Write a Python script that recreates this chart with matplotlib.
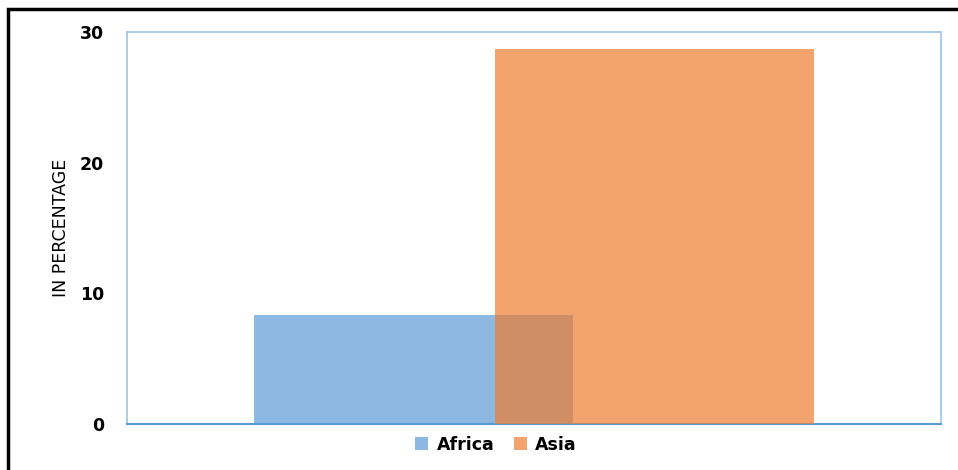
import numpy as np
from matplotlib import pyplot as plt
from matplotlib.patches import Rectangle

## data
regions = ['Africa', 'Asia']
shares = [8.35, 28.7]
yTicks = [0, 10, 20, 30]

colors = ['#5B9BD5', '#ED7D31']
offsets = [-0.295, 0.295]
barWidth = 0.784

## figure
fig = plt.figure(figsize=(9.58, 4.70), dpi=100)
ax = fig.add_axes([127/958, 1-424/470, 814/958, 392/470])

for ind in range(len(regions)):
    ax.bar(offsets[ind], shares[ind], width=barWidth, color=colors[ind],
           alpha=0.7, label=regions[ind], zorder=2 + ind)

ax.set_xlim(-1, 1)
ax.set_ylim(0, 30)
ax.set_yticks(yTicks)
ax.set_xticks([])
ax.tick_params(axis='y', length=0, pad=16.5)
for lab in ax.get_yticklabels():
    lab.set_fontweight('bold')
    lab.set_fontsize(12.5)

for side in ['left', 'top', 'right']:
    ax.spines[side].set_color('#9DC3E6')
    ax.spines[side].set_linewidth(1.2)
ax.spines['bottom'].set_color('#5B9BD5')
ax.spines['bottom'].set_linewidth(1.5)

ax.set_ylabel('IN PERCENTAGE', fontsize=12.5, labelpad=7)

leg = ax.legend(loc='upper center', bbox_to_anchor=(496/958, 1-420/470),
                bbox_transform=fig.transFigure, ncol=2, frameon=False,
                handlelength=0.75, handleheight=0.75, handletextpad=0.5,
                columnspacing=1.1, prop={'weight': 'bold', 'size': 12.5})

# black frame round the figure (right and bottom edges cut off)
fig.patches.append(Rectangle((8/958, -0.1), 1.1, 1 - 9/470 + 0.1,
                             transform=fig.transFigure, fill=False,
                             edgecolor='black', linewidth=2.5))

fig.savefig('out.png', dpi=100)
